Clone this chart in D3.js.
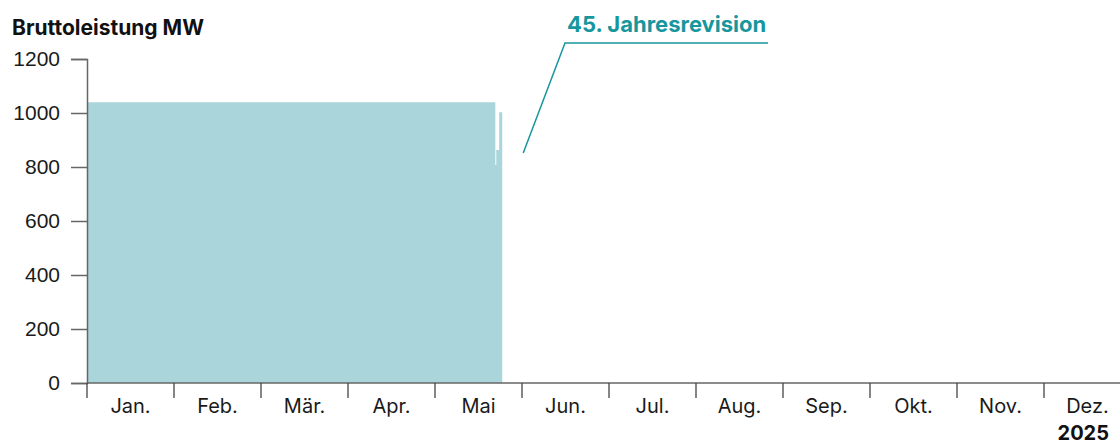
<!DOCTYPE html>
<html>
<head>
<meta charset="utf-8">
<script src="https://cdn.jsdelivr.net/npm/d3@7"></script>
<style>
  body { margin: 0; background: #fff; }
  svg { display: block; font-family: Inter, "Open Sans", sans-serif; }
</style>
</head>
<body>
<div id="chart"></div>
<script>
const FRAME_WIDTH = 1120;
const FRAME_HEIGHT = 445;
const MARGINS = {left: 87, right: -11, top: 59, bottom: 62};

// data
const MONTHS = ["Jan.", "Feb.", "Mär.", "Apr.", "Mai", "Jun.", "Jul.", "Aug.", "Sep.", "Okt.", "Nov.", "Dez."];
const Y_TICKS = [0, 200, 400, 600, 800, 1000, 1200];
const STEP_TIMES = ["2025-01-01T00:00", "2025-05-22T12:00", "2025-05-22T20:00", "2025-05-23T21:00", "2025-05-24T23:00"];
const STEP_VALUES = [1040, 807, 863, 1003, 0];
const YEAR = "2025";
const Y_TITLE = "Bruttoleistung MW";
const NOTE = "45. Jahresrevision";

const VIS_WIDTH = FRAME_WIDTH - MARGINS.left - MARGINS.right;
const VIS_HEIGHT = FRAME_HEIGHT - MARGINS.top - MARGINS.bottom;

const svg = d3.select("#chart").append("svg")
  .attr("width", FRAME_WIDTH)
  .attr("height", FRAME_HEIGHT);

const parse = d3.timeParse("%Y-%m-%dT%H:%M");
const data = STEP_TIMES.map((t, i) => ({date: parse(t), value: STEP_VALUES[i]}));

// months are drawn equally wide, so convert a date to a fractional month index
function monthPos(date) {
  const m = date.getMonth();
  const start = new Date(date.getFullYear(), m, 1);
  const end = new Date(date.getFullYear(), m + 1, 1);
  return m + (date - start) / (end - start);
}

const X_SCALE = d3.scaleLinear().domain([0, 12]).range([MARGINS.left, MARGINS.left + VIS_WIDTH]);
const Y_SCALE = d3.scaleLinear().domain([0, 1200]).range([MARGINS.top + VIS_HEIGHT, MARGINS.top]);

// area
const area = d3.area()
  .curve(d3.curveStepAfter)
  .x(d => X_SCALE(monthPos(d.date)))
  .y0(Y_SCALE(0))
  .y1(d => Y_SCALE(d.value));

svg.append("path")
  .datum(data)
  .attr("d", area)
  .attr("fill", "#aad5db");

// y axis
const yAxis = svg.append("g")
  .attr("transform", `translate(${MARGINS.left},0)`)
  .call(d3.axisLeft(Y_SCALE).tickValues(Y_TICKS).tickSize(16).tickPadding(11).tickFormat(d3.format("d")));
yAxis.select(".domain").attr("stroke", "#666").attr("stroke-width", 1.5);
yAxis.selectAll(".tick line").attr("stroke", "#666").attr("stroke-width", 1.5);
yAxis.selectAll(".tick text")
  .attr("fill", "#1a1a1a")
  .style("font-size", "21px");

// x axis
const xAxis = svg.append("g")
  .attr("transform", `translate(0,${Y_SCALE(0)})`);
xAxis.append("line")
  .attr("x1", X_SCALE(0)).attr("x2", FRAME_WIDTH)
  .attr("stroke", "#666").attr("stroke-width", 1.5);
xAxis.selectAll(".mtick")
  .data(d3.range(12))
  .enter().append("line")
  .attr("class", "mtick")
  .attr("x1", d => X_SCALE(d)).attr("x2", d => X_SCALE(d))
  .attr("y1", 0).attr("y2", 15)
  .attr("stroke", "#444").attr("stroke-width", 1.3);
xAxis.selectAll(".mlabel")
  .data(MONTHS)
  .enter().append("text")
  .attr("class", "mlabel")
  .attr("x", (d, i) => X_SCALE(i + 0.5))
  .attr("y", 30)
  .attr("text-anchor", "middle")
  .attr("fill", "#1a1a1a")
  .style("font-size", "20px")
  .text(d => d);

svg.append("text")
  .attr("x", 1109).attr("y", 440)
  .attr("text-anchor", "end")
  .attr("font-weight", "bold")
  .attr("fill", "#111")
  .style("font-size", "20px")
  .text(YEAR);

svg.append("text")
  .attr("x", 12).attr("y", 35)
  .attr("font-weight", "bold")
  .attr("fill", "#111")
  .style("font-size", "21px")
  .text(Y_TITLE);

// annotation
const noteX = 565, noteY = 43;
svg.append("path")
  .attr("d", `M${X_SCALE(monthPos(data[4].date)) + 21},153 L${noteX},${noteY} L768,${noteY}`)
  .attr("fill", "none")
  .attr("stroke", "#17969d")
  .attr("stroke-width", 1.5);
svg.append("text")
  .attr("x", noteX + 2).attr("y", 32)
  .attr("font-weight", "bold")
  .attr("fill", "#17969d")
  .style("font-size", "22px")
  .text(NOTE);
</script>
</body>
</html>
